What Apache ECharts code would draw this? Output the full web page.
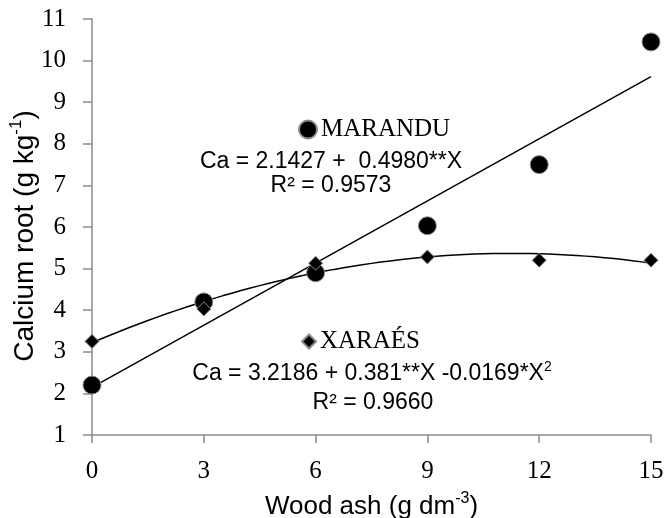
<!DOCTYPE html>
<html>
<head>
<meta charset="utf-8">
<script src="https://cdn.jsdelivr.net/npm/echarts@6/dist/echarts.min.js"></script>
<style>
  html, body { margin: 0; padding: 0; background: #fff; }
  #chart { width: 667px; height: 518px; }
</style>
</head>
<body>
<div id="chart"></div>
<script>
// Wood ash doses (g dm-3)
const doses = [0, 3, 6, 9, 12, 15];
// Calcium in roots (g kg-1) for each grass cultivar
const marandu = [2.2, 4.2, 4.9, 6.03, 7.5, 10.45];
const xaraes = [3.25, 4.03, 5.13, 5.28, 5.2, 5.2];
// Fitted regression coefficients (intercept, linear, quadratic)
const maranduFit = [2.1427, 0.4980];
const xaraesFit = [3.2186, 0.381, -0.0169];
const xTicks = [0, 3, 6, 9, 12, 15];
const yTicks = [1, 2, 3, 4, 5, 6, 7, 8, 9, 10, 11];

const serif = '"Liberation Serif", "Times New Roman", serif';
const sans = '"Liberation Sans", Arial, sans-serif';

// Regression lines evaluated across the dose range
const linePts = [0, 15].map(x => [x, maranduFit[0] + maranduFit[1] * x]);
const curvePts = [];
for (let i = 0; i <= 60; i++) {
  const x = i * 0.25;
  curvePts.push([x, xaraesFit[0] + xaraesFit[1] * x + xaraesFit[2] * x * x]);
}

const chart = echarts.init(document.getElementById('chart'));
const richFor = size => ({
  b: { fontFamily: sans, fontSize: size, color: '#000' },
  s: { fontFamily: sans, fontSize: Math.round(size * 0.62), color: '#000', padding: [0, 0, Math.round(size * 0.6), 0] }
});

const markerStyle = { color: '#000', opacity: 1, borderColor: '#8a8a8a', borderWidth: 1 };

chart.setOption({
  animation: false,
  backgroundColor: '#fff',
  grid: { left: 92, right: 16, top: 19, bottom: 83, containLabel: false, outerBoundsMode: 'none' },
  xAxis: {
    type: 'value', min: 0, max: 15, interval: 3,
    axisLine: { lineStyle: { color: '#8c8c8c', width: 1.5 } },
    axisTick: { show: true, length: 8, lineStyle: { color: '#8c8c8c', width: 1.5 } },
    splitLine: { show: false },
    axisLabel: {
      fontFamily: serif, fontSize: 25, color: '#000', margin: 24,
      formatter: v => xTicks.includes(v) ? String(v) : ''
    },
    name: '{b|Wood ash (g dm}{s|-3}{b|)}',
    nameLocation: 'middle', nameGap: 56,
    nameTextStyle: { rich: richFor(26) }
  },
  yAxis: {
    type: 'value', min: 1, max: 11, interval: 1,
    axisLine: { show: true, lineStyle: { color: '#8c8c8c', width: 1.5 } },
    axisTick: { show: true, length: 9, lineStyle: { color: '#8c8c8c', width: 1.5 } },
    splitLine: { show: false },
    axisLabel: {
      fontFamily: serif, fontSize: 25, color: '#000', margin: 26,
      formatter: v => yTicks.includes(v) ? String(v) : ''
    },
    name: '{b|Calcium root (g kg}{s|-1}{b|)}',
    nameLocation: 'middle', nameGap: 50, nameRotate: 90, nameMoveOverlap: false,
    nameTextStyle: { rich: richFor(28), padding: [0, 18, 0, 0] }
  },
  legend: [
    {
      data: ['MARANDU'], left: 298, top: 117, padding: 0,
      itemWidth: 18, itemHeight: 18, itemGap: 4,
      textStyle: { fontFamily: serif, fontSize: 25, color: '#000', padding: [0, 0, 0, -1] }
    },
    {
      data: ['XARAÉS'], left: 301, top: 329, padding: 0,
      itemWidth: 14, itemHeight: 14, itemGap: 5,
      textStyle: { fontFamily: serif, fontSize: 25, color: '#000', padding: [0, 0, 0, -1] }
    }
  ],
  graphic: [
    {
      type: 'text', x: 331, y: 162,
      style: { text: 'Ca = 2.1427 +  0.4980**X', fontFamily: sans, fontSize: 23, fill: '#000',
               textAlign: 'center', textVerticalAlign: 'middle' }
    },
    {
      type: 'text', x: 331, y: 186,
      style: { text: 'R² = 0.9573', fontFamily: sans, fontSize: 23, fill: '#000',
               textAlign: 'center', textVerticalAlign: 'middle' }
    },
    {
      type: 'text', x: 372, y: 374,
      style: {
        text: '{b|Ca = 3.2186 + 0.381**X -0.0169*X}{s|2}',
        rich: richFor(23),
        textAlign: 'center', textVerticalAlign: 'middle'
      }
    },
    {
      type: 'text', x: 373, y: 403,
      style: { text: 'R² = 0.9660', fontFamily: sans, fontSize: 23, fill: '#000',
               textAlign: 'center', textVerticalAlign: 'middle' }
    }
  ],
  series: [
    {
      name: 'MARANDU fit', type: 'line', data: linePts, showSymbol: false,
      lineStyle: { color: '#000', width: 1.5 }, z: 2, silent: true
    },
    {
      name: 'XARAÉS fit', type: 'line', data: curvePts, showSymbol: false,
      lineStyle: { color: '#000', width: 1.5 }, z: 2, silent: true
    },
    {
      name: 'MARANDU', type: 'scatter', symbol: 'circle', symbolSize: 18,
      data: doses.map((d, i) => [d, marandu[i]]),
      itemStyle: markerStyle, z: 3
    },
    {
      name: 'XARAÉS', type: 'scatter', symbol: 'diamond', symbolSize: 14,
      data: doses.map((d, i) => [d, xaraes[i]]),
      itemStyle: markerStyle, z: 3
    }
  ]
});
</script>
</body>
</html>
